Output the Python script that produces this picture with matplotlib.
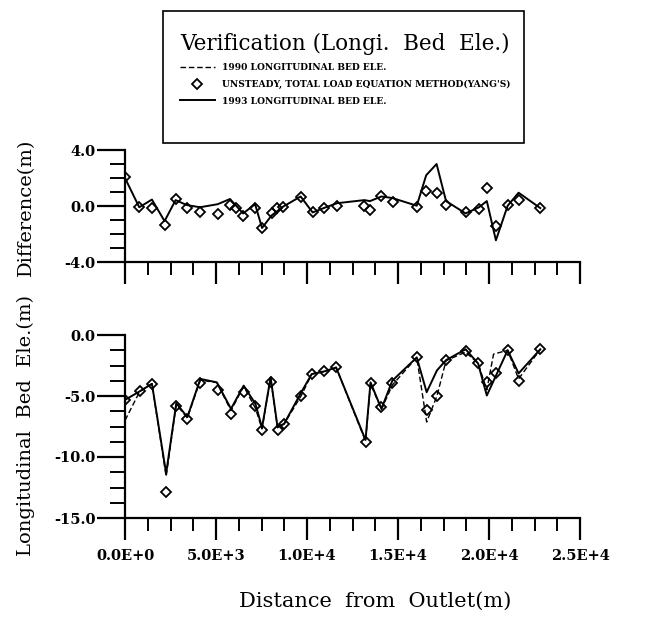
import numpy as np
import matplotlib
matplotlib.use("Agg")
import matplotlib.pyplot as plt
from matplotlib.patches import Rectangle
from matplotlib.ticker import MultipleLocator, FuncFormatter

# distance from outlet (m) and difference (m), upper panel
diff_x_1993 = [0, 783, 1480, 2174, 2780, 3390, 4120, 5095, 5770, 6490, 7150, 7530,
               8050, 8695, 9650, 10310, 10955, 11650, 13150, 13460, 14090, 14690,
               16030, 16550, 17120, 17640, 18715, 19450, 19880, 20380, 21025, 21625, 22820]
diff_y_1993 = [2.0, -0.09, 0.46, -1.08, 0.42, 0.07, -0.09, 0.13, 0.5, -0.53, 0.13, -1.57,
               -0.68, -0.04, 0.68, -0.46, -0.13, 0.2, 0.42, 0.35, 0.68, 0.57,
               0.02, 2.2, 3.0, 0.35, -0.53, -0.09, 0.35, -2.45, 0.02, 0.95, -0.15]

diff_x_yang = [0, 783, 1480, 2174, 2780, 3390, 4120, 5095, 5770, 6090, 6490, 7150, 7530,
               8050, 8350, 8695, 9650, 10310, 10955, 11650, 13150, 13460, 14090, 14740,
               16030, 16550, 17120, 17640, 18715, 19450, 19880, 20380, 21025, 21625, 22820]
diff_y_yang = [2.06, -0.1, -0.15, -1.35, 0.5, -0.15, -0.46, -0.55, 0.09, -0.13, -0.68, -0.15, -1.57,
               -0.53, -0.13, -0.04, 0.64, -0.42, -0.13, 0.02, -0.02, -0.31, 0.73, 0.29,
               -0.04, 1.08, 0.9, 0.09, -0.46, -0.24, 1.26, -1.41, 0.07, 0.42, -0.15]

# longitudinal bed elevation (m), lower panel
bed_x_1990 = [0, 817, 1480, 2260, 2817, 3426, 4140, 5045, 5825, 6520, 7165, 7530, 8000,
              8380, 8745, 9686, 10260, 10955, 11600, 13216, 13490, 14090, 14690, 16030,
              16575, 17140, 17640, 18715, 19400, 19880, 20250, 21025, 21625, 22820]
bed_y_1990 = [-7.0, -4.61, -4.0, -11.6, -5.7, -6.8, -3.7, -3.9, -6.2, -4.2, -6.0, -7.7, -3.5,
              -7.6, -7.3, -4.96, -3.2, -3.0, -2.66, -8.7, -4.0, -6.1, -4.1, -1.84,
              -7.13, -5.0, -2.1, -1.4, -2.33, -4.5, -1.57, -1.25, -3.6, -1.17]

bed_x_1993 = [0, 817, 1480, 2260, 2817, 3426, 4140, 5045, 5825, 6520, 7165, 7530, 8000,
              8380, 8745, 9686, 10260, 10955, 11600, 13216, 13490, 14090, 14690, 16030,
              16575, 17140, 17640, 18715, 19400, 19880, 21025, 21625, 22820]
bed_y_1993 = [-5.32, -4.61, -4.0, -11.34, -5.59, -6.73, -3.6, -3.88, -6.05, -4.15, -5.64, -7.6, -3.47,
              -7.54, -7.27, -4.69, -3.2, -2.98, -2.66, -8.6, -3.88, -6.05, -3.74, -1.84,
              -4.69, -2.9, -2.06, -1.17, -2.33, -4.96, -1.25, -3.15, -1.17]

bed_x_yang = [0, 817, 1480, 2260, 2817, 3426, 4140, 5095, 5825, 6550, 7165, 7530, 8000,
              8380, 8745, 9686, 10260, 10955, 11600, 13216, 13490, 14090, 14690, 16030,
              16575, 17140, 17640, 18715, 19400, 19880, 20375, 21025, 21625, 22820]
bed_y_yang = [-5.32, -4.61, -4.0, -12.9, -5.86, -6.86, -3.96, -4.48, -6.46, -4.69, -5.86, -7.76, -3.82,
              -7.76, -7.27, -4.96, -3.2, -2.98, -2.66, -8.76, -3.9, -5.9, -3.96, -1.84,
              -6.18, -4.96, -2.06, -1.3, -2.33, -3.82, -3.15, -1.25, -3.74, -1.17]

x_ticks = [0, 5000, 10000, 15000, 20000, 25000]
x_labels = ["0.0E+0", "5.0E+3", "1.0E+4", "1.5E+4", "2.0E+4", "2.5E+4"]

plt.rcParams["font.family"] = "DejaVu Serif"

W, H = 653, 621
fig = plt.figure(figsize=(W / 100, H / 100), dpi=100)
ax1 = fig.add_axes([125 / W, 1 - 262 / H, 455 / W, 112 / H])
ax2 = fig.add_axes([125 / W, 1 - 518 / H, 455 / W, 183 / H])

mk = dict(marker="D", ms=5, mfc="none", mec="black", mew=1.3, ls="none")

ax1.plot(diff_x_1993, diff_y_1993, color="black", lw=1.4)
ax1.plot(diff_x_yang, diff_y_yang, **mk)

l90, = ax2.plot(bed_x_1990, bed_y_1990, color="black", lw=1.0, ls=(0, (4, 2)))
l93, = ax2.plot(bed_x_1993, bed_y_1993, color="black", lw=1.4)
pts, = ax2.plot(bed_x_yang, bed_y_yang, **mk)

for ax in (ax1, ax2):
    ax.spines["top"].set_visible(False)
    ax.spines["right"].set_visible(False)
    ax.spines["left"].set_linewidth(1.6)
    ax.spines["bottom"].set_linewidth(1.6)
    ax.set_xlim(0, 25000)
    ax.set_xticks(x_ticks)
    ax.xaxis.set_minor_locator(MultipleLocator(1250))
    ax.tick_params(which="major", direction="out", length=16, width=1.6)
    ax.tick_params(which="minor", direction="out", length=9, width=1.4)
    ax.tick_params(axis="y", which="major", length=20)
    ax.tick_params(axis="y", which="minor", length=11)

ax1.set_ylim(-4, 4)
ax1.set_yticks([-4, 0, 4])
ax1.yaxis.set_minor_locator(MultipleLocator(1))
ax1.yaxis.set_major_formatter(FuncFormatter(lambda v, p: "%.1f" % v))
ax1.set_xticklabels([])

ax2.set_ylim(-15, 0)
ax2.set_yticks([-15, -10, -5, 0])
ax2.yaxis.set_minor_locator(MultipleLocator(1.25))
ax2.yaxis.set_major_formatter(FuncFormatter(lambda v, p: "%.1f" % v))
ax2.set_xticklabels(x_labels)

for ax in (ax1, ax2):
    for t in ax.get_xticklabels() + ax.get_yticklabels():
        t.set_fontsize(10.5)
        t.set_fontweight("bold")
    ax.tick_params(axis="y", pad=1)
    ax.tick_params(axis="x", pad=6)

fig.text(26 / W, 1 - 207 / H, "Difference(m)", rotation=90, ha="center", va="center", fontsize=14)
fig.text(26 / W, 1 - 425 / H, "Longitudinal  Bed  Ele.(m)", rotation=90, ha="center",
         va="center", fontsize=14)
fig.text(375 / W, 1 - 601 / H, "Distance  from  Outlet(m)", ha="center", va="center", fontsize=15)

# legend frame drawn separately so the padding can be uneven
fig.patches.append(Rectangle((163 / W, 1 - 143 / H), (524 - 163) / W, (143 - 11) / H,
                             transform=fig.transFigure, fill=False, ec="black", lw=1.2))

leg = fig.legend([l90, pts, l93],
                 ["1990 LONGITUDINAL BED ELE.",
                  "UNSTEADY, TOTAL LOAD EQUATION METHOD(YANG'S)",
                  "1993 LONGITUDINAL BED ELE."],
                 title="Verification (Longi.  Bed  Ele.)",
                 loc="upper left", bbox_to_anchor=(180 / W, 1 - 33 / H),
                 borderaxespad=0, borderpad=0, frameon=False, alignment="left",
                 handlelength=3.8, handletextpad=0.8, labelspacing=0.85,
                 prop={"size": 6.6, "weight": "bold"},
                 title_fontproperties={"size": 15.5})

fig.savefig("out.png", dpi=100)
